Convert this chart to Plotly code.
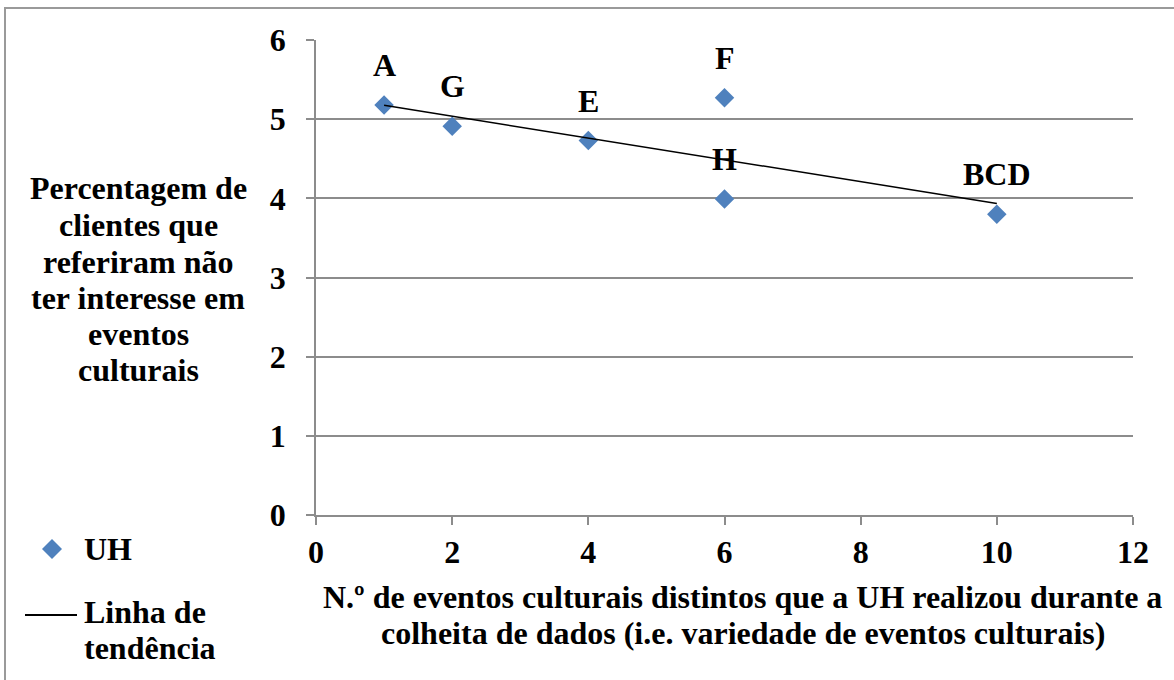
import numpy as np
import plotly.graph_objects as go

# Number of distinct cultural events per accommodation unit (UH)
eventos = [1, 2, 4, 6, 6, 10]
# Percentage of clients reporting no interest in cultural events
percentagem = [5.18, 4.91, 4.73, 5.27, 3.99, 3.80]
rotulos = ["A", "G", "E", "F", "H", "BCD"]

x_ticks = [0, 2, 4, 6, 8, 10, 12]
y_ticks = [0, 1, 2, 3, 4, 5, 6]

y_title_lines = ["Percentagem de", "clientes que", "referiram não",
                 "ter interesse em", "eventos", "culturais"]
x_title_lines = ["N.º de eventos culturais distintos que a UH realizou durante a",
                 "colheita de dados (i.e. variedade de eventos culturais)"]
legend_marker_text = "UH"
legend_line_text = ["Linha de", "tendência"]

FONT = "Liberation Serif, Times New Roman, serif"
FS = 32
GRID = "#8c8c8c"
BLUE = "#4f81bd"

# Figure geometry (pixels)
W, H = 1174, 680
L, R, T, B = 316, 41, 40, 165
PW, PH = W - L - R, H - T - B


def px_x(p):
    return (p - L) / PW


def px_y(p):
    return (H - B - p) / PH


# Least-squares linear trend across the points
slope, intercept = np.polyfit(eventos, percentagem, 1)
trend_x = [min(eventos), max(eventos)]
trend_y = [slope * v + intercept for v in trend_x]

fig = go.Figure()
fig.add_trace(go.Scatter(
    x=eventos, y=percentagem, mode="markers", name="UH",
    marker=dict(symbol="diamond", size=15, color=BLUE),
))
fig.add_trace(go.Scatter(
    x=trend_x, y=trend_y, mode="lines", name="Linha de tendência",
    line=dict(color="black", width=1.5),
))

txt_font = dict(family=FONT, size=FS, color="black")

# Point labels
for xv, yv, lab in zip(eventos, percentagem, rotulos):
    fig.add_annotation(x=xv, y=yv, text=f"<b>{lab}</b>", showarrow=False,
                       yshift=40, font=txt_font)

# Y-axis title, one annotation per line
y_title_rows = [188, 225, 262, 298, 334, 370]
for row, line in zip(y_title_rows, y_title_lines):
    fig.add_annotation(xref="paper", yref="paper", x=px_x(138), y=px_y(row),
                       text=f"<b>{line}</b>", showarrow=False,
                       xanchor="center", yanchor="middle", font=txt_font)

# X-axis title
for row, line in zip([597, 633], x_title_lines):
    fig.add_annotation(xref="paper", yref="paper", x=px_x(742.5), y=px_y(row),
                       text=f"<b>{line}</b>", showarrow=False,
                       xanchor="center", yanchor="middle", font=txt_font)

# Legend
fig.add_shape(type="path", xref="paper", yref="paper",
              xsizemode="pixel", ysizemode="pixel",
              xanchor=px_x(52), yanchor=px_y(549),
              path="M -10 0 L 0 10 L 10 0 L 0 -10 Z",
              fillcolor=BLUE, line=dict(width=0))
fig.add_annotation(xref="paper", yref="paper", x=px_x(82), y=px_y(549),
                   text=f"<b>{legend_marker_text}</b>", showarrow=False,
                   xanchor="left", yanchor="middle", font=txt_font)
fig.add_shape(type="line", xref="paper", yref="paper",
              x0=px_x(25), x1=px_x(77), y0=px_y(615), y1=px_y(615),
              line=dict(color="black", width=2))
for row, line in zip([612, 648], legend_line_text):
    fig.add_annotation(xref="paper", yref="paper", x=px_x(82), y=px_y(row),
                       text=f"<b>{line}</b>", showarrow=False,
                       xanchor="left", yanchor="middle", font=txt_font)

# Chart frame
fig.add_shape(type="rect", xref="paper", yref="paper",
              x0=px_x(5), y0=px_y(720), x1=px_x(1220), y1=px_y(8),
              line=dict(color="#9a9a9a", width=2), layer="below")

fig.update_xaxes(
    range=[0, 12], tickvals=x_ticks, ticktext=[f"<b>{t}</b>" for t in x_ticks],
    showline=True, linecolor=GRID, linewidth=1.5, ticks="outside", ticklen=8,
    tickcolor=GRID, tickwidth=1.5, showgrid=False, zeroline=False,
    tickfont=txt_font, ticklabelstandoff=0, automargin=False,
)
fig.update_yaxes(
    range=[0, 6], tickvals=y_ticks, ticktext=[f"<b>{t}</b>" for t in y_ticks],
    showline=True, linecolor=GRID, linewidth=1.5, ticks="outside", ticklen=8,
    tickcolor=GRID, tickwidth=1.5, showgrid=True, gridcolor=GRID, gridwidth=1.5,
    zeroline=False, tickfont=txt_font, ticklabelstandoff=14, automargin=False,
)

fig.update_layout(
    width=W, height=H,
    margin=dict(l=L, r=R, t=T, b=B),
    paper_bgcolor="white", plot_bgcolor="white",
    font=txt_font,
    showlegend=False,
)

fig.write_html("out.html")
